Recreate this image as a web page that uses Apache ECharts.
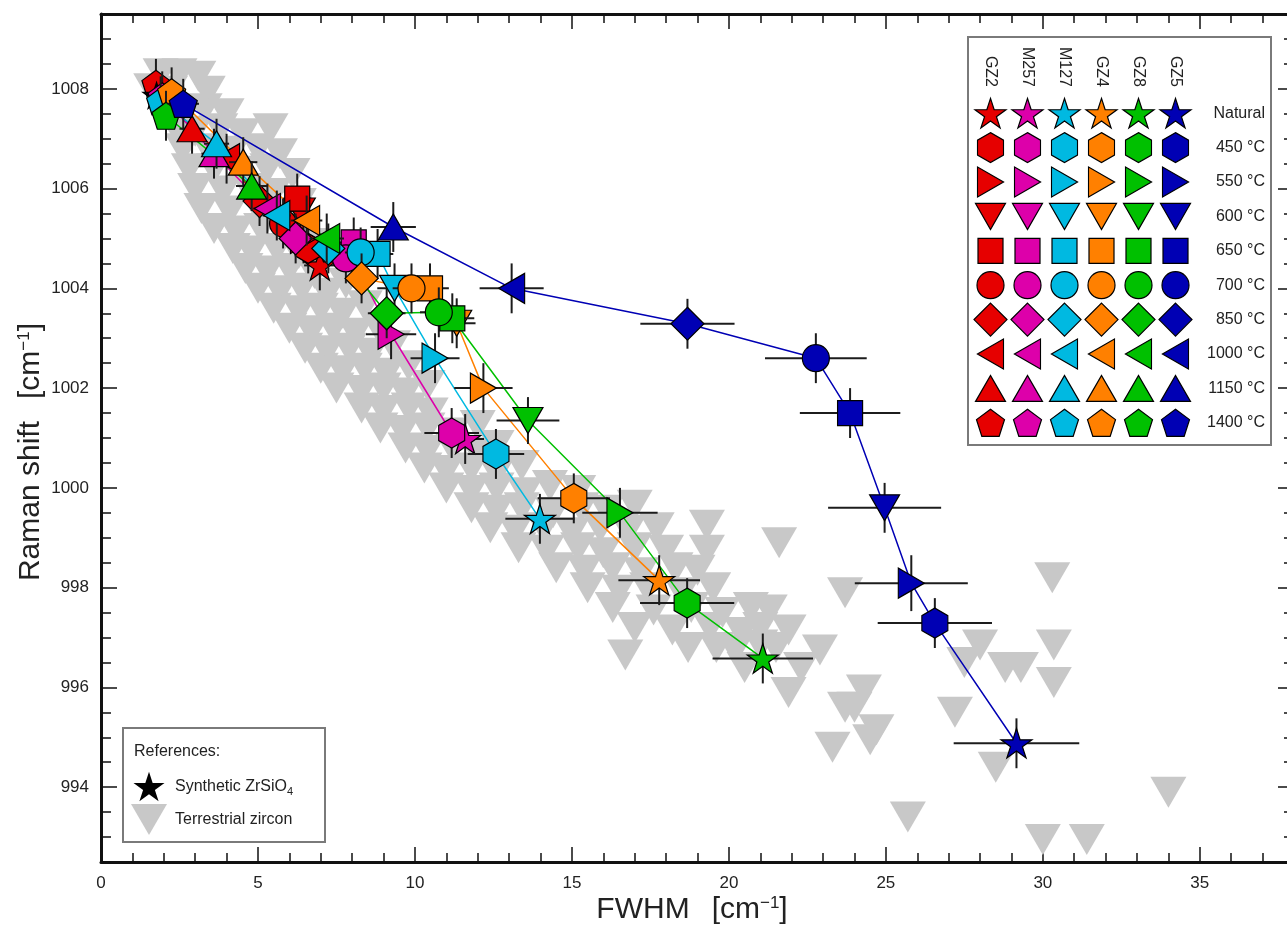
<!DOCTYPE html>
<html><head><meta charset="utf-8">
<script src="https://cdn.jsdelivr.net/npm/echarts@6/dist/echarts.min.js"></script>
<style>html,body{margin:0;padding:0;background:#fff}#c{width:1287px;height:928px}</style>
</head><body><div id="c"></div>
<script>
// ---------------- DATA ----------------
const samples = ['GZ2', 'M257', 'M127', 'GZ4', 'GZ8', 'GZ5'];
const treatments = ['Natural', '450 °C', '550 °C', '600 °C', '650 °C', '700 °C', '850 °C', '1000 °C', '1150 °C', '1400 °C'];

// values ordered as in `treatments`
const fwhm_GZ2  = [6.97, 6.6, 6.45, 6.35, 6.25, 5.8, 5.05, 4.0, 2.9, 1.75];
const shift_GZ2 = [1004.46, 1004.8, 1005.0, 1005.55, 1005.8, 1005.3, 1005.75, 1006.6, 1007.2, 1008.1];
const fwhmErr_GZ2  = [0.5, 0.5, 0.5, 0.5, 0.45, 0.45, 0.45, 0.4, 0.4, 0.35];
const shiftErr_GZ2 = [0.5, 0.5, 0.5, 0.5, 0.5, 0.5, 0.5, 0.5, 0.5, 0.5];

const fwhm_M257  = [11.6, 11.17, 9.24, 8.0, 8.05, 7.8, 6.2, 5.3, 3.6, 1.95];
const shift_M257 = [1000.98, 1001.1, 1003.08, 1004.6, 1004.92, 1004.6, 1005.0, 1005.6, 1006.7, 1007.85];
const fwhmErr_M257  = [0.6, 0.87, 0.8, 0.5, 0.5, 0.5, 0.5, 0.45, 0.4, 0.35];
const shiftErr_M257 = [0.5, 0.5, 0.5, 0.5, 0.5, 0.5, 0.5, 0.5, 0.5, 0.5];

const fwhm_M127  = [13.98, 12.58, 10.64, 9.35, 8.81, 8.27, 7.24, 5.6, 3.68, 1.9];
const shift_M127 = [999.38, 1000.68, 1002.6, 1004.0, 1004.69, 1004.72, 1004.8, 1005.46, 1006.9, 1007.75];
const fwhmErr_M127  = [1.1, 0.9, 0.78, 0.55, 0.5, 0.5, 0.5, 0.45, 0.4, 0.35];
const shiftErr_M127 = [0.5, 0.5, 0.5, 0.5, 0.5, 0.5, 0.5, 0.5, 0.5, 0.5];

const fwhm_GZ4  = [17.78, 15.06, 12.18, 11.33, 10.48, 9.89, 8.3, 6.55, 4.53, 2.25];
const shift_GZ4 = [998.15, 999.79, 1002.0, 1003.3, 1004.0, 1004.0, 1004.2, 1005.36, 1006.53, 1007.93];
const fwhmErr_GZ4  = [1.3, 1.15, 0.93, 0.6, 0.6, 0.6, 0.5, 0.5, 0.45, 0.35];
const shiftErr_GZ4 = [0.5, 0.5, 0.5, 0.5, 0.5, 0.5, 0.5, 0.5, 0.5, 0.5];

const fwhm_GZ8  = [21.08, 18.67, 16.53, 13.6, 11.19, 10.76, 9.1, 7.19, 4.8, 2.07];
const shift_GZ8 = [996.58, 997.69, 999.5, 1001.35, 1003.4, 1003.52, 1003.5, 1005.0, 1006.05, 1007.46];
const fwhmErr_GZ8  = [1.6, 1.5, 1.2, 1.0, 0.7, 0.6, 0.6, 0.55, 0.5, 0.4];
const shiftErr_GZ8 = [0.5, 0.5, 0.5, 0.47, 0.5, 0.5, 0.5, 0.5, 0.5, 0.5];

const fwhm_GZ5  = [29.16, 26.56, 25.81, 24.96, 23.86, 22.77, 18.68, 13.08, 9.31, 2.62];
const shift_GZ5 = [994.88, 997.29, 998.09, 999.6, 1001.5, 1002.6, 1003.29, 1004.0, 1005.23, 1007.7];
const fwhmErr_GZ5  = [2.0, 1.82, 1.8, 1.8, 1.6, 1.62, 1.5, 1.02, 0.72, 0.5];
const shiftErr_GZ5 = [0.5, 0.5, 0.56, 0.5, 0.5, 0.5, 0.5, 0.5, 0.5, 0.5];

// reference: synthetic ZrSiO4
const synthFwhm = [1.77];
const synthShift = [1007.87];

// reference: terrestrial zircon
const terrFwhm = [
  1.9, 2.5, 3.1, 1.6, 2.2, 3.4, 2.1, 2.7, 3.3, 4.0,
  2.4, 3.0, 3.8, 4.5, 5.4, 2.6, 3.4, 4.2, 5.0, 5.7,
  2.8, 3.6, 4.4, 5.3, 6.1, 3.0, 3.9, 4.7, 5.5,
  3.2, 4.1, 5.0, 5.9, 6.3, 3.6, 4.3, 5.1, 5.8,
  4.2, 4.8, 5.6, 6.3, 7.0, 4.6, 5.3, 6.0, 6.8,
  5.0, 5.7, 6.4, 7.2, 7.8, 5.5, 6.3, 7.0, 7.7, 8.4,
  6.0, 6.7, 7.4, 8.1, 8.8, 6.5, 7.2, 7.9, 8.6, 9.3,
  7.0, 7.7, 8.4, 9.1, 9.8, 7.5, 8.3, 9.0, 9.7, 10.4,
  8.3, 9.0, 9.8, 10.5, 8.9, 9.6, 10.4, 11.2, 12.0,
  9.7, 10.4, 11.2, 12.0, 12.6, 10.3, 11.0, 11.8, 12.6, 13.4,
  11.0, 11.8, 12.6, 13.5, 14.3, 15.2,
  11.8, 12.6, 13.4, 14.4, 15.3, 16.1, 17.0,
  12.4, 13.2, 14.1, 15.0, 15.9, 16.8, 17.7, 19.3,
  13.3, 14.2, 15.2, 16.0, 17.0, 18.0, 19.3, 21.6,
  14.5, 15.4, 16.3, 17.2, 18.3, 19.0,
  15.5, 16.5, 17.4, 18.5, 19.5, 23.7, 30.3,
  16.3, 17.6, 18.8, 19.8, 20.7, 21.3,
  17.0, 18.2, 19.4, 20.4, 21.0, 21.9,
  16.7, 18.7, 19.6, 20.2, 21.0, 21.5, 22.9, 28.0, 30.35,
  20.5, 22.3, 27.5, 28.8, 29.3,
  21.9, 24.3, 30.35, 23.7, 27.2, 24.0,
  24.7, 24.5, 23.3, 28.5, 34.0, 25.7, 30.0, 31.4
];
const terrShift = [
  1008.3, 1008.3, 1008.25, 1008.0, 1007.95, 1007.95, 1007.6, 1007.55, 1007.6, 1007.5,
  1007.2, 1007.15, 1007.2, 1007.1, 1007.2, 1006.8, 1006.8, 1006.75, 1006.8, 1006.7,
  1006.4, 1006.4, 1006.35, 1006.4, 1006.3, 1006.0, 1005.95, 1006.0, 1005.9,
  1005.6, 1005.55, 1005.6, 1005.5, 1005.7, 1005.2, 1005.15, 1005.2, 1005.1,
  1004.8, 1004.75, 1004.8, 1004.7, 1004.9, 1004.4, 1004.35, 1004.4, 1004.3,
  1004.0, 1003.95, 1004.0, 1003.9, 1004.1, 1003.6, 1003.55, 1003.6, 1003.5, 1003.65,
  1003.2, 1003.15, 1003.2, 1003.1, 1003.25, 1002.8, 1002.75, 1002.8, 1002.7, 1002.85,
  1002.4, 1002.35, 1002.4, 1002.3, 1002.45, 1002.0, 1001.95, 1002.0, 1001.9, 1002.05,
  1001.6, 1001.55, 1001.6, 1001.5, 1001.2, 1001.15, 1001.2, 1001.1, 1001.25,
  1000.8, 1000.75, 1000.8, 1000.7, 1000.85, 1000.4, 1000.35, 1000.4, 1000.3, 1000.45,
  1000.0, 999.95, 1000.0, 999.9, 1000.05, 999.95,
  999.6, 999.55, 999.6, 999.5, 999.6, 999.55, 999.65,
  999.2, 999.15, 999.2, 999.1, 999.2, 999.15, 999.2, 999.25,
  998.8, 998.75, 998.8, 998.7, 998.8, 998.75, 998.75, 998.9,
  998.4, 998.35, 998.4, 998.3, 998.4, 998.35,
  998.0, 997.95, 998.0, 997.9, 998.0, 997.9, 998.2,
  997.6, 997.55, 997.6, 997.5, 997.6, 997.55,
  997.2, 997.15, 997.2, 997.1, 997.2, 997.15,
  996.65, 996.8, 996.8, 996.75, 996.85, 996.8, 996.75, 996.85, 996.85,
  996.4, 996.4, 996.5, 996.4, 996.4,
  995.9, 995.95, 996.1, 995.6, 995.5, 995.6,
  995.15, 994.95, 994.8, 994.4, 993.9, 993.4, 992.95, 992.95
];

// axis tick labels
const xTickLabels = [0, 5, 10, 15, 20, 25, 30, 35];
const yTickLabels = [994, 996, 998, 1000, 1002, 1004, 1006, 1008];

// ---------------- STYLE ----------------
const sampleColors = ['#e60000', '#dd00aa', '#00b9e1', '#ff8000', '#00c000', '#0000b4'];
const FONT = 'Liberation Sans, Arial, sans-serif';

function poly(pts) {
  return 'path://M' + pts.map(p => p[0].toFixed(4) + ',' + p[1].toFixed(4)).join('L') + 'Z';
}
function regular(n, r2) {
  const pts = [];
  const m = r2 ? n * 2 : n;
  for (let k = 0; k < m; k++) {
    const a = (-90 + k * 360 / m) * Math.PI / 180;
    const r = r2 && (k % 2) ? r2 : 1;
    pts.push([r * Math.cos(a), r * Math.sin(a)]);
  }
  return poly(pts);
}
const S_STAR = regular(5, 0.382);
const S_HEX = regular(6);
const S_PENT = regular(5);
const S_TUP = poly([[0, -1], [1, 1], [-1, 1]]);
const S_TDN = poly([[-1, -1], [1, -1], [0, 1]]);
const S_TRT = poly([[-1, -1], [1, 0], [-1, 1]]);
const S_TLT = poly([[1, -1], [-1, 0], [1, 1]]);
const treatmentSymbols = [S_STAR, S_HEX, S_TRT, S_TDN, 'rect', 'circle', 'diamond', S_TLT, S_TUP, S_PENT];
const treatmentSizes = [[31, 29.5], [26, 30], [26, 30], [30, 26], [25, 25], [27, 27], [33, 33], [26, 30], [30, 26], [28, 27]];

const sampleData = [
  [fwhm_GZ2, shift_GZ2, fwhmErr_GZ2, shiftErr_GZ2],
  [fwhm_M257, shift_M257, fwhmErr_M257, shiftErr_M257],
  [fwhm_M127, shift_M127, fwhmErr_M127, shiftErr_M127],
  [fwhm_GZ4, shift_GZ4, fwhmErr_GZ4, shiftErr_GZ4],
  [fwhm_GZ8, shift_GZ8, fwhmErr_GZ8, shiftErr_GZ8],
  [fwhm_GZ5, shift_GZ5, fwhmErr_GZ5, shiftErr_GZ5]
];

function renderErr(params, api) {
  const x = api.value(0), y = api.value(1), xe = api.value(2), ye = api.value(3);
  const l = api.coord([x - xe, y]), r = api.coord([x + xe, y]);
  const t = api.coord([x, y + ye]), b = api.coord([x, y - ye]);
  const st = { stroke: '#1c1c1c', lineWidth: 2 };
  return { type: 'group', children: [
    { type: 'line', shape: { x1: l[0], y1: l[1], x2: r[0], y2: r[1] }, style: st },
    { type: 'line', shape: { x1: t[0], y1: t[1], x2: b[0], y2: b[1] }, style: st }
  ] };
}

const series = [];
series.push({
  type: 'scatter', xAxisIndex: 0, yAxisIndex: 0, z: 1, silent: true,
  symbol: S_TDN, symbolSize: [36, 31],
  itemStyle: { color: '#c8c8c8', opacity: 1 },
  data: terrFwhm.map((x, i) => [x, terrShift[i]])
});
sampleData.forEach((d, si) => {
  series.push({
    type: 'line', xAxisIndex: 0, yAxisIndex: 0, z: 2, silent: true,
    showSymbol: false, symbol: 'none',
    lineStyle: { color: sampleColors[si], width: 1.5 },
    data: d[0].map((x, i) => [x, d[1][i]])
  });
});
sampleData.forEach((d, si) => {
  series.push({
    type: 'custom', xAxisIndex: 0, yAxisIndex: 0, z: 3 + si * 2, silent: true,
    renderItem: renderErr, encode: { x: 0, y: 1 },
    data: d[0].map((x, i) => [x, d[1][i], d[2][i], d[3][i]])
  });
  series.push({
    type: 'scatter', xAxisIndex: 0, yAxisIndex: 0, z: 4 + si * 2, silent: true,
    symbol: (v, p) => treatmentSymbols[p.dataIndex],
    symbolSize: (v, p) => treatmentSizes[p.dataIndex],
    itemStyle: { color: sampleColors[si], borderColor: '#000', borderWidth: 1.2, opacity: 1 },
    data: d[0].map((x, i) => [x, d[1][i]])
  });
  if (si === 0) {
    series.push({
      type: 'scatter', xAxisIndex: 0, yAxisIndex: 0, z: 5, silent: true,
      symbol: S_STAR, symbolSize: [31, 29.5],
      itemStyle: { color: '#000', opacity: 1 },
      data: synthFwhm.map((x, i) => [x, synthShift[i]])
    });
  }
});
// legend (samples x treatments)
const legendData = [];
treatments.forEach((t, r) => samples.forEach((s, c) => legendData.push([c, r])));
series.push({
  type: 'scatter', xAxisIndex: 4, yAxisIndex: 4, z: 20, silent: true,
  symbol: (v) => treatmentSymbols[v[1]],
  symbolSize: (v) => treatmentSizes[v[1]],
  itemStyle: { color: (p) => sampleColors[p.data[0]], borderColor: '#000', borderWidth: 1.2, opacity: 1 },
  data: legendData
});
// references legend
const refNames = ['Synthetic ZrSiO4', 'Terrestrial zircon'];
series.push({
  type: 'scatter', xAxisIndex: 5, yAxisIndex: 5, z: 20, silent: true,
  symbol: (v) => v[1] === 0 ? S_STAR : S_TDN,
  symbolSize: (v) => v[1] === 0 ? [31, 29.5] : [36, 31],
  itemStyle: { color: (p) => p.data[1] === 0 ? '#000' : '#c8c8c8', opacity: 1 },
  data: [[0, 0], [0, 1]]
});

const lineAx = { lineStyle: { color: '#111', width: 3 } };
const tickStyle = { color: '#111', width: 1.5 };
const noLabel = { show: false };
function mainX(pos, interval, len, label, line) {
  return { gridIndex: 0, type: 'value', min: 0, max: 38, interval: interval, position: pos,
    axisLine: line ? Object.assign({ show: true, onZero: false }, lineAx) : { show: false, onZero: false },
    axisTick: { show: true, inside: true, length: len, lineStyle: tickStyle },
    axisLabel: label ? { show: true, fontSize: 17, color: '#222', fontFamily: FONT, margin: 13,
      formatter: v => (xTickLabels.indexOf(v) >= 0 ? String(v) : '') } : noLabel,
    splitLine: { show: false } };
}
function mainY(pos, opt) {
  return Object.assign({ gridIndex: 0, type: 'value', min: 992.5, max: 1009.5, position: pos,
    splitLine: { show: false } }, opt);
}
const TITLE_RICH = {
  a: { fontSize: 30, fontFamily: FONT, fill: '#222' },
  g: { fontSize: 30, fontFamily: FONT, fill: '#222', width: 22 },
  s: { fontSize: 17, fontFamily: FONT, fill: '#222', padding: [0, 0, 13, 0] }
};

const option = {
  animation: false,
  backgroundColor: '#fff',
  grid: [
    { left: 101, top: 14, width: 1193, height: 848, outerBoundsMode: 'none', containLabel: false },
    { left: 972, top: 96, width: 222, height: 344, outerBoundsMode: 'none', containLabel: false },
    { left: 135, top: 770, width: 28, height: 66, outerBoundsMode: 'none', containLabel: false }
  ],
  xAxis: [
    mainX('bottom', 5, 15, true, true),
    mainX('bottom', 1, 9, false, false),
    mainX('top', 5, 15, false, true),
    mainX('top', 1, 9, false, false),
    { gridIndex: 1, type: 'category', data: samples, position: 'top',
      axisLine: { show: false }, axisTick: { show: false }, splitLine: { show: false },
      axisLabel: { rotate: 90, fontSize: 16, color: '#222', fontFamily: FONT, margin: 9, interval: 0 } },
    { gridIndex: 2, type: 'category', data: [''], show: false }
  ],
  yAxis: [
    mainY('left', {
      axisLine: Object.assign({ show: true, onZero: false }, lineAx),
      axisTick: { show: true, inside: true, length: 16, lineStyle: tickStyle, customValues: yTickLabels },
      axisLabel: { show: true, fontSize: 17, color: '#222', fontFamily: FONT, margin: 12,
        customValues: yTickLabels, formatter: v => String(v) }
    }),
    mainY('left', { interval: 0.5, axisLine: { show: false, onZero: false },
      axisTick: { show: true, inside: true, length: 10, lineStyle: tickStyle }, axisLabel: noLabel }),
    mainY('right', {
      axisLine: Object.assign({ show: true, onZero: false }, lineAx),
      axisTick: { show: true, inside: true, length: 16, lineStyle: tickStyle, customValues: yTickLabels },
      axisLabel: noLabel
    }),
    mainY('right', { interval: 0.5, axisLine: { show: false, onZero: false },
      axisTick: { show: true, inside: true, length: 10, lineStyle: tickStyle }, axisLabel: noLabel }),
    { gridIndex: 1, type: 'category', data: treatments, inverse: true, position: 'right',
      axisLine: { show: false }, axisTick: { show: false }, splitLine: { show: false },
      axisLabel: { align: 'right', margin: 71, fontSize: 16, color: '#222', fontFamily: FONT, interval: 0 } },
    { gridIndex: 2, type: 'category', data: refNames, inverse: true, position: 'right',
      axisLine: { show: false }, axisTick: { show: false }, splitLine: { show: false },
      axisLabel: { margin: 12, interval: 0, fontSize: 16, color: '#222', fontFamily: FONT,
        formatter: v => v === 'Synthetic ZrSiO4' ? '{a|Synthetic ZrSiO}{s|4}' : '{a|' + v + '}',
        rich: { a: { fontSize: 16, fontFamily: FONT, color: '#222' },
                s: { fontSize: 11, fontFamily: FONT, color: '#222', padding: [10, 0, 0, 0] } } } }
  ],
  graphic: [
    { type: 'rect', z: 0, shape: { x: 968, y: 37, width: 303, height: 408 },
      style: { fill: 'rgba(0,0,0,0)', stroke: '#7a7a7a', lineWidth: 2 } },
    { type: 'rect', z: 0, shape: { x: 123, y: 728, width: 202, height: 114 },
      style: { fill: 'rgba(0,0,0,0)', stroke: '#7a7a7a', lineWidth: 2 } },
    { type: 'text', x: 134, y: 752, style: { text: 'References:', font: '16px ' + FONT, fill: '#222', textVerticalAlign: 'middle' } },
    { type: 'text', x: 31, y: 452, rotation: Math.PI / 2,
      style: { text: '{a|Raman shift}{g| }{a|[cm}{s|−1}{a|]}', textAlign: 'center', textVerticalAlign: 'middle', rich: TITLE_RICH } },
    { type: 'text', x: 692, y: 910,
      style: { text: '{a|FWHM}{g| }{a|[cm}{s|−1}{a|]}', textAlign: 'center', textVerticalAlign: 'middle', rich: TITLE_RICH } }
  ],
  series: series
};
const chart = echarts.init(document.getElementById('c'), null, { renderer: 'canvas' });
chart.setOption(option);
</script></body></html>
